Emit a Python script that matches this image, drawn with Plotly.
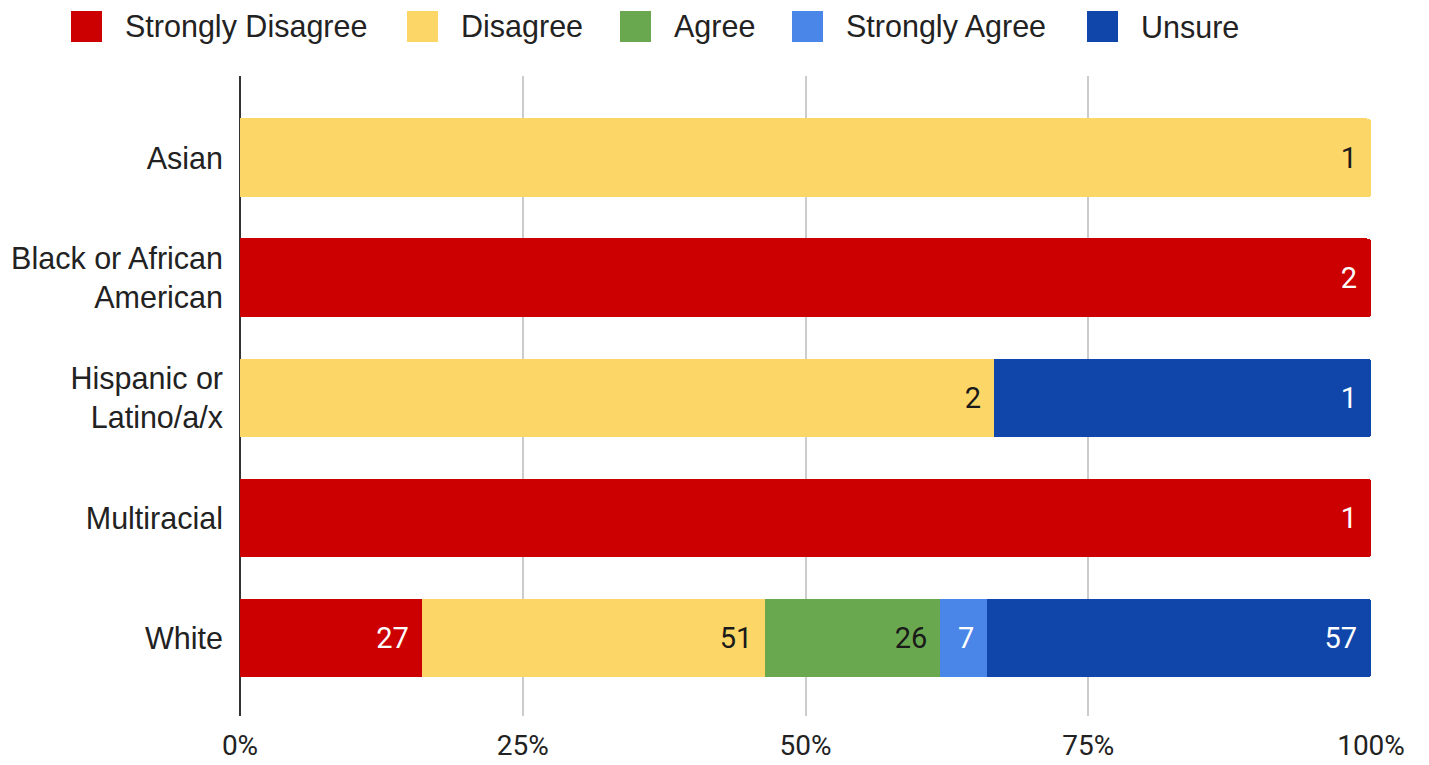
import plotly.graph_objects as go

# Survey responses by race/ethnicity (counts), shown as 100% stacked bars
groups = ["Asian", "Black or African<br>American", "Hispanic or<br>Latino/a/x", "Multiracial", "White"]
responses = ["Strongly Disagree", "Disagree", "Agree", "Strongly Agree", "Unsure"]

strongly_disagree = [None, 2, None, 1, 27]
disagree = [1, None, 2, None, 51]
agree = [None, None, None, None, 26]
strongly_agree = [None, None, None, None, 7]
unsure = [None, None, 1, None, 57]

x_ticks = [0, 25, 50, 75, 100]
x_tick_labels = ["0%", "25%", "50%", "75%", "100%"]

series = [strongly_disagree, disagree, agree, strongly_agree, unsure]
colors = ["#cc0000", "#fcd666", "#6aa84f", "#4a86e8", "#1046a9"]
label_colors = ["#ffffff", "#1a1a1a", "#1a1a1a", "#ffffff", "#ffffff"]

W, H = 1429, 765
ML, MR, MT, MB = 240, 58, 76, 49
PW, PH = W - ML - MR, H - MT - MB

NUM_FONT = "Roboto"
TXT_FONT = "Liberation Sans"

fig = go.Figure()
for name, vals, col, tcol in zip(responses, series, colors, label_colors):
    fig.add_trace(go.Bar(
        y=groups,
        x=vals,
        name=name,
        orientation="h",
        marker=dict(color=col, line=dict(width=0)),
        text=[("" if v is None else f"{v}\u2004") for v in vals],
        textposition="inside",
        insidetextanchor="end",
        textangle=0,
        textfont=dict(family=NUM_FONT, size=29, color=tcol),
        showlegend=False,
        hoverinfo="name+x",
    ))

# Legend row drawn above the plot: coloured squares and labels
def px_x(p):
    return (p - ML) / PW

def px_y(p):
    return (H - MB - p) / PH

legend_items = [
    ("Strongly Disagree", 71, 123),
    ("Disagree", 407, 459),
    ("Agree", 620, 672),
    ("Strongly Agree", 792, 844),
    ("Unsure", 1087, 1139),
]
shapes = []
annotations = []
for (label, sx, tx), col in zip(legend_items, colors):
    shapes.append(dict(
        type="rect", xref="paper", yref="paper",
        x0=px_x(sx), x1=px_x(sx + 31), y0=px_y(42), y1=px_y(11),
        fillcolor=col, line=dict(width=0), layer="above",
    ))
    annotations.append(dict(
        text=label, xref="paper", yref="paper",
        x=px_x(tx), y=px_y(27), xanchor="left", yanchor="middle",
        showarrow=False,
        font=dict(family=TXT_FONT, size=30.5, color="#222222"),
    ))

fig.update_layout(
    barmode="stack",
    barnorm="percent",
    bargap=0.342,
    barcornerradius=4,
    width=W, height=H,
    margin=dict(l=ML, r=MR, t=MT, b=MB, pad=0),
    paper_bgcolor="white",
    plot_bgcolor="white",
    shapes=shapes,
    annotations=annotations,
    xaxis=dict(
        range=[0, 100],
        tickmode="array",
        tickvals=x_ticks,
        ticktext=x_tick_labels,
        showgrid=True,
        gridcolor="#cccccc",
        gridwidth=2,
        zeroline=True,
        zerolinecolor="#333333",
        zerolinewidth=2,
        showline=False,
        ticks="",
        ticklabelstandoff=10,
        automargin=False,
        tickfont=dict(family=NUM_FONT, size=28, color="#222222"),
        fixedrange=True,
    ),
    yaxis=dict(
        type="category",
        categoryorder="array",
        categoryarray=groups,
        range=[4.65, -0.683],
        showgrid=False,
        zeroline=False,
        showline=False,
        ticks="",
        ticklabelstandoff=16,
        automargin=False,
        tickfont=dict(family=TXT_FONT, size=30.5, color="#222222"),
        fixedrange=True,
    ),
)

fig.write_html("out.html")
